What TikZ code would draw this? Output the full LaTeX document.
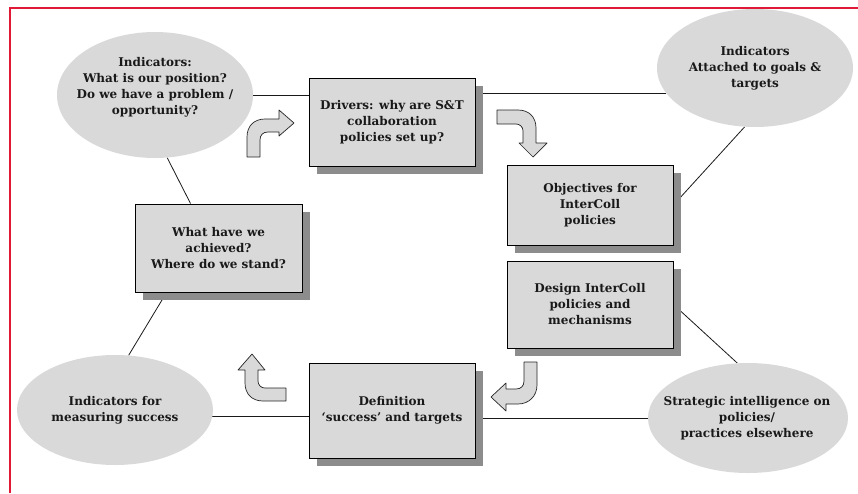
\documentclass[tikz,border=0pt]{standalone}
\usepackage{fontspec}
\setmainfont{DejaVu Serif}
\usetikzlibrary{shapes.geometric,shadows,backgrounds}
\definecolor{boxgray}{RGB}{217,217,217}
\definecolor{shadowgray}{RGB}{140,140,140}
\definecolor{framered}{RGB}{225,25,55}
\tikzset{
  txt/.style={align=center,font=\bfseries\fontsize{12}{16}\selectfont,text=black!90},
  stepbox/.style={txt,draw=black,line width=0.9pt,fill=boxgray,rectangle,inner sep=0pt,
    general shadow={fill=shadowgray,shadow xshift=8pt,shadow yshift=-8pt}},
  oval/.style={txt,ellipse,fill=boxgray,inner sep=0pt},
  link/.style={draw=black!90,line width=0.8pt},
  bentarrow/.style={fill=boxgray,draw=black!85,line width=0.7pt,line join=round},
}
\begin{document}
\begin{tikzpicture}[x=1pt,y=-1pt]
\useasboundingbox (0,0) rectangle (858,493);
% frame
\draw[framered,line width=2pt] (858,8) -- (10,8) -- (10,493);
% nodes
\node[stepbox,minimum width=166pt,minimum height=88pt] (drv) at (392,122) {Drivers: why are S\&T\\collaboration\\policies set up?};
\node[stepbox,minimum width=166pt,minimum height=80pt] (obj) at (590,205) {Objectives for\\InterColl\\policies};
\node[stepbox,minimum width=167pt,minimum height=88pt] (what) at (218.5,248) {What have we\\achieved?\\Where do we stand?};
\node[stepbox,minimum width=166pt,minimum height=87pt] (des) at (590,304.5) {Design InterColl\\policies and\\mechanisms};
\node[stepbox,minimum width=166pt,minimum height=95pt] (def) at (392,410.5) {Definition\\‘success’ and targets};
\node[oval,minimum width=196pt,minimum height=126pt] (e1) at (155,95) {};
\node[txt] (e1t) at (155,87) {Indicators:\\What is our position?\\Do we have a problem /\\opportunity?};
\node[oval,minimum width=196pt,minimum height=118pt] (etr) at (755,68) {Indicators\\Attached to goals \&\\targets};
\node[oval,minimum width=196pt,minimum height=110pt] (ebl) at (115,410) {Indicators for\\measuring success};
\node[oval,minimum width=200pt,minimum height=110pt] (ebr) at (748,418) {};
\node[txt] (ebrt) at (747,418) {Strategic intelligence on\\policies/\\practices elsewhere};
% connectors
\begin{pgfonlayer}{background}
\draw[link] (e1.east) -- (e1.east -| drv.west);
\draw[link] (etr.196.5) -- (etr.196.5 -| drv.east);
\draw[link] (etr.260) -- (obj.east);
\draw[link] (e1.281) -- ([xshift=56pt]what.north west);
\draw[link] ([xshift=32pt]what.south west) -- (ebl.76.7);
\draw[link] (ebl.-4.7) -- (ebl.-4.7 -| def.west);
\draw[link] (ebr.west) -- (ebr.west -| def.east);
\draw[link] (des.east) -- (ebr.101.3);
\end{pgfonlayer}
% bent block arrows
\draw[bentarrow] (247,157) -- (247,137) .. controls (247,126) and (254,119) .. (265,119)
  -- (279,119) -- (279,110) -- (294,123) -- (279,136) -- (279,132) -- (268,132)
  .. controls (263,132) and (260,135) .. (260,140) -- (260,157) -- cycle;
\draw[bentarrow] (497,110) -- (518,110) .. controls (529,110) and (536,117) .. (536,128)
  -- (536,143) -- (547,143) -- (533,157) -- (519,143) -- (523,143) -- (523,131)
  .. controls (523,127) and (520,124) .. (516,124) -- (497,124) -- cycle;
\draw[bentarrow] (537,362) -- (537,385) .. controls (537,396) and (529,404) .. (518,404)
  -- (506,404) -- (506,411) -- (491,397) -- (506,383) -- (506,389) -- (516,389)
  .. controls (521,389) and (524,386) .. (524,381) -- (524,362) -- cycle;
\draw[bentarrow] (286,401) -- (263,401) .. controls (252,401) and (245,394) .. (245,383)
  -- (245,370) -- (238,370) -- (252,354) -- (265,370) -- (258,370) -- (258,381)
  .. controls (258,385) and (261,388) .. (265,388) -- (286,388) -- cycle;
\end{tikzpicture}
\end{document}
